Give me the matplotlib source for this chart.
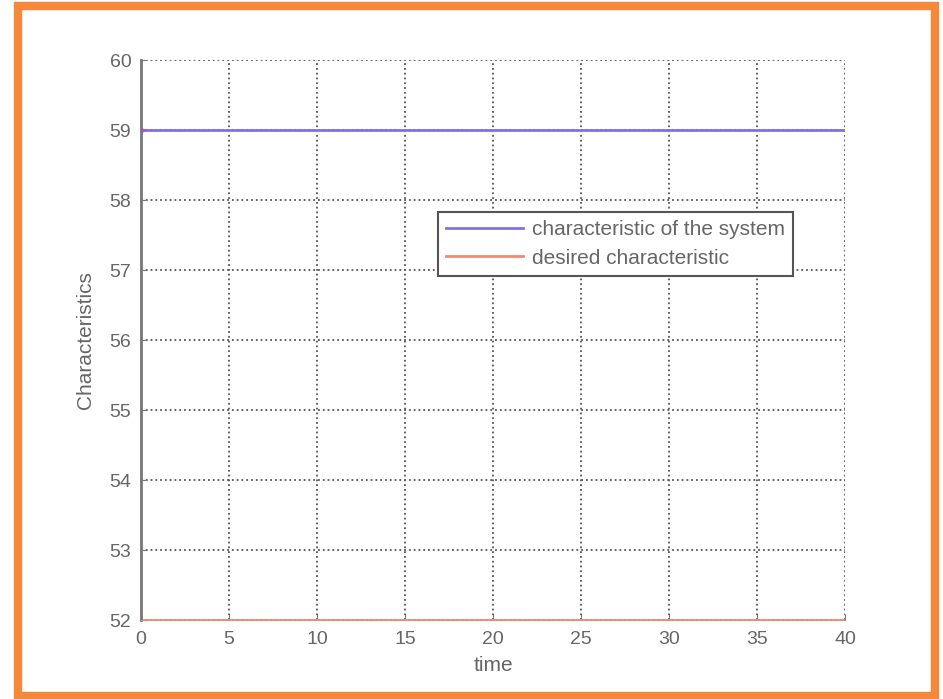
import matplotlib
matplotlib.use('Agg')
import matplotlib.pyplot as plt
from matplotlib.patches import Rectangle

# system response vs desired value over time
time = [0, 40]
system = [59, 59]
desired = [52, 52]

x_ticks = [0, 5, 10, 15, 20, 25, 30, 35, 40]
y_ticks = [52, 53, 54, 55, 56, 57, 58, 59, 60]

plt.rcParams['font.family'] = ['Liberation Sans', 'DejaVu Sans']

fig = plt.figure(figsize=(9.43, 6.99), dpi=100)
ax = fig.add_axes([0.1495, 0.1130, 0.7466, 0.8011])

ax.plot(time, system, color='#8070f0', lw=2, label='characteristic of the system')
ax.plot(time, desired, color='#f08a78', lw=2, label='desired characteristic')
ax.plot(time[0], system[0], marker='>', color='#d040e0', ms=6)

ax.set_xlim(0, 40)
ax.set_ylim(52, 60)
ax.set_xticks(x_ticks)
ax.set_yticks(y_ticks)
ax.grid(True, linestyle=':', color='#555555', lw=1.3)

for side in ['top', 'right']:
    ax.spines[side].set_visible(False)
ax.spines['left'].set_color('#777777')
ax.spines['left'].set_linewidth(2)
ax.spines['bottom'].set_color('#f08a78')
ax.tick_params(direction='in', colors='#777777', labelcolor='#666666',
               labelsize=14, length=4)
ax.tick_params(axis='x', pad=8)
ax.tick_params(axis='y', pad=7)

ax.set_xlabel('time', fontsize=15, color='#666666', labelpad=6)
ax.set_ylabel('Characteristics', fontsize=15, color='#666666', labelpad=10)

leg = ax.legend(loc='upper right', bbox_to_anchor=(0.926, 0.7286), fancybox=False,
                framealpha=1, edgecolor='#555555', fontsize=15, handlelength=3.7,
                handletextpad=0.4, borderpad=0.4, labelspacing=0.45, borderaxespad=0)
leg.get_frame().set_linewidth(1.5)
for t in leg.get_texts():
    t.set_color('#666666')

# orange frame around the whole figure
fig.patches.append(Rectangle((0.019, 0.004), 0.973, 0.988, transform=fig.transFigure,
                             fill=False, edgecolor='#f5883a', lw=6))

fig.savefig('out.png', dpi=100)
